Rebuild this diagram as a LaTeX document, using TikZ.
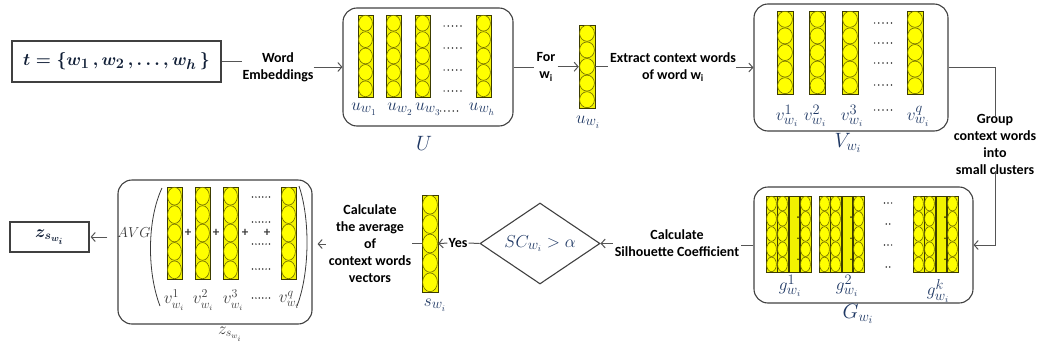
\documentclass[tikz,border=0pt]{standalone}
\usepackage{amsmath}
\usepackage{fontspec}
\setmainfont{Carlito}
\usetikzlibrary{arrows.meta,shapes.geometric,calc}

\definecolor{navy}{HTML}{1F3864}
\definecolor{linegray}{HTML}{555555}
\definecolor{boxgray}{HTML}{404040}
\definecolor{colfill}{HTML}{F2F200}
\definecolor{colline}{HTML}{3C3C00}
\definecolor{ballfill}{HTML}{FFFF00}
\definecolor{ballline}{HTML}{6E6A00}
\definecolor{avggray}{HTML}{3A3A3A}

\tikzset{
  conn/.style={draw=linegray, line width=1pt},
  arr/.style={conn, -{Straight Barb[length=4pt,width=9pt]}},
  panel/.style={draw=boxgray, line width=1.1pt, rounded corners=14pt, inner sep=0, rectangle},
  plainbox/.style={draw=boxgray, line width=1.2pt, inner sep=0, rectangle},
  lbl/.style={font=\bfseries\fontsize{14}{17}\selectfont, align=center, inner sep=0, text=black},
  mlbl/.style={font=\fontsize{19}{22}\selectfont, text=navy, inner sep=0},
  biglbl/.style={font=\fontsize{21}{24}\selectfont, text=navy, inner sep=0},
  glbl/.style={font=\fontsize{17}{20}\selectfont, text=avggray, inner sep=0},
  colbox/.style={draw=colline, fill=colfill, line width=0.9pt},
  ball/.style={draw=ballline, fill=ballfill, line width=0.6pt},
  dotc/.style={fill=black!80},
}

\newcommand\colshape[4]{%
  \draw[colbox] ({#1-(#3)/2},#2) rectangle ({#1+(#3)/2},{#2+#4});
  \foreach \k in {0,...,4}{\draw[ball] ({#1},{#2+(#4)/10+\k*(#4)/5}) ellipse [x radius={(#3)/2*1pt-0.6pt}, y radius={(#4)/10*1pt-0.3pt}];}%
}
\newcommand\colnode[5]{%
  \node[minimum width=#4pt, minimum height=#5pt, inner sep=0, anchor=north, rectangle] (#1) at (#2,#3) {};
  \colshape{#2}{#3}{#4}{#5}%
}
\newcommand\plainbar[3]{%
  \draw[colbox] ({#1-5},#2) rectangle ({#1+5},{#2+#3});
  \foreach \k in {1,2,3}{\fill[colline] ({#1+4},{#2+\k*(#3)/3.6}) circle (0.9pt);}%
}
\newcommand\dotrow[4]{%
  \foreach \j in {1,...,#3}{\fill[dotc] ({#1+(\j-(#3+1)/2)*#4},#2) circle (0.85pt);}%
}
\newcommand\ggroup[1]{%
  \colshape{#1+5.5}{196}{11}{76}
  \colshape{#1+16.5}{196}{11}{76}
  \plainbar{#1+28}{196}{76}
  \colshape{#1+39.5}{196}{11}{76}
}

\begin{document}
\begin{tikzpicture}[x=1pt,y=-1pt]
\useasboundingbox (0,0) rectangle (1047,351);

% ---------- top row ----------
\node[plainbox, minimum width=209pt, minimum height=41pt] (t) at (116.5,61.5)
  {\fontsize{19}{22}\selectfont\color{navy!55!black}$\boldsymbol{t=\{w_1\,,w_2\,,\ldots,w_h\,\}}$};
\node[lbl] (word) at (278,67) {Word\\Embeddings};

\node[panel, minimum width=170pt, minimum height=118pt] (U) at (428,67) {};
\colnode{u1}{365.5}{15}{15}{82}
\colnode{u2}{393.5}{15}{15}{82}
\colnode{u3}{422.5}{15}{15}{82}
\colnode{uh}{483.5}{15}{15}{82}
\dotrow{452.5}{26}{5}{4.2}
\dotrow{452.5}{48}{5}{4.2}
\dotrow{452.5}{70}{5}{4.2}
\dotrow{452.5}{91}{5}{4.2}
\node[mlbl] (lu1) at (364,109) {$u_{w_1}$};
\node[mlbl] (lu2) at (400,109) {$u_{w_2}$};
\node[mlbl] (lu3) at (428,109) {$u_{w_3}$};
\dotrow{449}{111}{5}{4.2}
\node[mlbl] (luh) at (482,109) {$u_{w_h}$};
\node[biglbl] (Ulbl) at (424,143) {$U$};

\node[lbl] (for) at (546,67) {For\\w\textsubscript{i}};
\colnode{uwi}{587}{25}{16}{83}
\node[mlbl] (luwi) at (588,122) {$u_{w_i}$};

\node[lbl] (extract) at (673,67) {Extract context words\\of word w\textsubscript{i}};

\node[panel, minimum width=194pt, minimum height=127pt] (V) at (851,67.5) {};
\colnode{v1}{785}{11}{16}{83}
\colnode{v2}{817.5}{11}{16}{83}
\colnode{v3}{850}{11}{16}{83}
\colnode{vq}{915}{11}{16}{83}
\dotrow{883}{23}{5}{4.2}
\dotrow{883}{43}{5}{4.2}
\dotrow{883}{63}{5}{4.2}
\dotrow{883}{85}{5}{4.2}
\dotrow{883}{110}{5}{4.2}
\node[mlbl] (lv1) at (787,116) {$v^{1}_{w_i}$};
\node[mlbl] (lv2) at (815,116) {$v^{2}_{w_i}$};
\node[mlbl] (lv3) at (852,116) {$v^{3}_{w_i}$};
\node[mlbl] (lvq) at (918,116) {$v^{q}_{w_i}$};
\node[biglbl] (Vlbl) at (848,143) {$V_{w_i}$};

\node[lbl] (group) at (995,144) {Group\\context words\\into\\small clusters};

% ---------- bottom row ----------
\node[panel, minimum width=219pt, minimum height=116pt] (G) at (863.5,245) {};
\ggroup{766}
\ggroup{819}
\ggroup{913}
\dotrow{888}{203}{3}{3.6}
\dotrow{888}{224}{2}{3.6}
\dotrow{888}{245}{3}{3.6}
\dotrow{888}{267}{2}{3.6}
\node[mlbl] (lg1) at (790,286) {$g^{1}_{w_i}$};
\node[mlbl] (lg2) at (847,286) {$g^{2}_{w_i}$};
\node[mlbl] (lgk) at (938,291) {$g^{k}_{w_i}$};
\node[biglbl] (Glbl) at (858,314) {$G_{w_i}$};

\node[lbl] (silh) at (677,243) {Calculate\\Silhouette Coefficient};
\node[draw=boxgray, line width=1.1pt, diamond, minimum width=120pt, minimum height=81pt, inner sep=0] (dia) at (540,243.5) {};
\node[mlbl] at (dia.center) {$SC_{w_i} > \alpha$};
\node[lbl] (yes) at (458,243) {Yes};
\colnode{s}{430}{195}{16}{97}
\node[mlbl] (ls) at (435,305) {$s_{w_i}$};

\node[lbl] (avg) at (370,244) {Calculate\\the average\\of\\context words\\vectors};

\node[panel, minimum width=194pt, minimum height=144pt] (A) at (215,252) {};
\node[glbl, font=\fontsize{14.4}{17}\selectfont] (avgt) at (134,233) {$AVG$};
\draw[avggray, line width=0.8pt] (162,188) .. controls (147,220) and (147,272) .. (160,306);
\draw[avggray, line width=0.8pt] (299,186) .. controls (310,218) and (310,272) .. (297,306);
\colshape{174.5}{187}{15}{92}
\colshape{202.5}{187}{15}{92}
\colshape{230.5}{187}{15}{92}
\colshape{288.5}{187}{15}{92}
\node[glbl, font=\bfseries\fontsize{13}{15}\selectfont] at (188,233) {+};
\node[glbl, font=\bfseries\fontsize{13}{15}\selectfont] at (216,233) {+};
\node[glbl, font=\bfseries\fontsize{13}{15}\selectfont] at (245,233) {+};
\node[glbl, font=\bfseries\fontsize{13}{15}\selectfont] at (267,233) {+};
\dotrow{261}{197}{6}{3.4}
\dotrow{261}{222}{6}{3.4}
\dotrow{261}{244}{6}{3.4}
\dotrow{261}{269}{6}{3.4}
\dotrow{261}{298}{6}{3.4}
\node[glbl] (la1) at (174,300) {$v^{1}_{w_i}$};
\node[glbl] (la2) at (203,300) {$v^{2}_{w_i}$};
\node[glbl] (la3) at (233,300) {$v^{3}_{w_i}$};
\node[glbl] (laq) at (289,300) {$v^{q}_{w_i}$};
\node[glbl] (Albl) at (230,334) {$z_{s_{w_i}}$};

\node[plainbox, minimum width=79pt, minimum height=30pt] (z) at (49.5,237)
  {\fontsize{18}{20}\selectfont\color{navy!55!black}$\boldsymbol{z_{s_{w_i}}}$};

% ---------- connectors ----------
\draw[conn] (t.east) -- (t.east -| word.west);
\draw[arr] (word.east |- U.west) -- (U.west);
\draw[conn] (U.east) -- ([xshift=-2pt]for.west |- U.east);
\draw[arr] ([xshift=2pt]for.east |- uwi.west) -- (uwi.west);
\draw[conn] (uwi.east) -- ([xshift=-2pt]extract.west |- uwi.east);
\draw[arr] (extract.east |- V.west) -- (V.west);
\draw[conn] (V.east) -| ([yshift=-3pt]group.north);
\draw[arr] ([yshift=3pt]group.south) |- (G.east);
\draw[conn] (G.west) -- ([xshift=2pt]silh.east |- G.west);
\draw[arr] ([xshift=-2pt]silh.west |- dia.east) -- (dia.east);
\draw[conn] (dia.west) -- ([xshift=1pt]yes.east);
\draw[arr] ([xshift=-1pt]yes.west) -- (s.east);
\draw[conn] (s.west) -- ([xshift=1pt]avg.east |- s.west);
\draw[arr] ([xshift=-3pt]avg.west) -- ([xshift=5pt]A.east |- avg.west);
\draw[arr] ([xshift=-10pt]A.west |- z.east) -- ([xshift=1pt]z.east);
\end{tikzpicture}
\end{document}
